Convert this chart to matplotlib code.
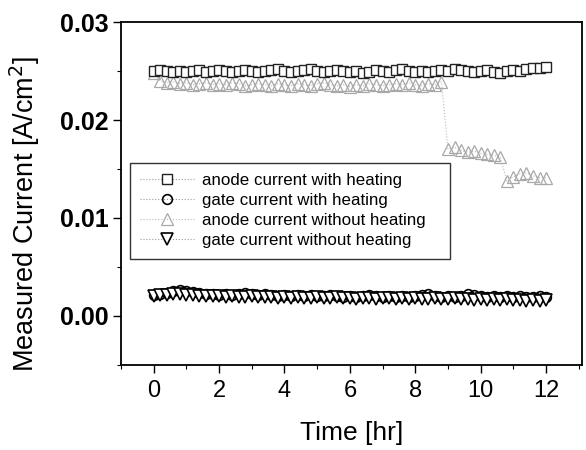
import matplotlib
matplotlib.use("Agg")
import matplotlib.pyplot as plt
from matplotlib.ticker import MultipleLocator

plt.rcParams['font.family'] = ['Liberation Sans', 'DejaVu Sans']

time_hr = [0.0, 0.2, 0.4, 0.6, 0.8, 1.0, 1.2, 1.4, 1.6, 1.8,
           2.0, 2.2, 2.4, 2.6, 2.8, 3.0, 3.2, 3.4, 3.6, 3.8,
           4.0, 4.2, 4.4, 4.6, 4.8, 5.0, 5.2, 5.4, 5.6, 5.8,
           6.0, 6.2, 6.4, 6.6, 6.8, 7.0, 7.2, 7.4, 7.6, 7.8,
           8.0, 8.2, 8.4, 8.6, 8.8, 9.0, 9.2, 9.4, 9.6, 9.8,
           10.0, 10.2, 10.4, 10.6, 10.8, 11.0, 11.2, 11.4, 11.6, 11.8,
           12.0]

anode_heat = [0.0250, 0.0251, 0.0250, 0.0249, 0.0250, 0.0249, 0.0250, 0.0251, 0.0249, 0.0250,
              0.0251, 0.0250, 0.0249, 0.0250, 0.0251, 0.0250, 0.0249, 0.0250, 0.0251, 0.0252,
              0.0250, 0.0249, 0.0250, 0.0251, 0.0252, 0.0250, 0.0249, 0.0250, 0.0251, 0.0250,
              0.0249, 0.0250, 0.0248, 0.0249, 0.0251, 0.0250, 0.0249, 0.0251, 0.0252, 0.0250,
              0.0249, 0.0250, 0.0249, 0.0250, 0.0251, 0.0250, 0.0252, 0.0251, 0.0250, 0.0249,
              0.0250, 0.0251, 0.0249, 0.0248, 0.0250, 0.0251, 0.0250, 0.0252, 0.0253, 0.0253,
              0.0254]

gate_heat = [0.0021, 0.0022, 0.0023, 0.0025, 0.0026, 0.0025, 0.0024, 0.0023, 0.0022, 0.0022,
             0.0021, 0.0022, 0.0021, 0.0022, 0.0023, 0.0022, 0.0021, 0.0022, 0.0021, 0.0020,
             0.0021, 0.0020, 0.0021, 0.0020, 0.0021, 0.0020, 0.0020, 0.0021, 0.0020, 0.0019,
             0.0020, 0.0019, 0.0020, 0.0021, 0.0020, 0.0019, 0.0020, 0.0019, 0.0020, 0.0019,
             0.0020, 0.0021, 0.0022, 0.0020, 0.0019, 0.0020, 0.0019, 0.0020, 0.0022, 0.0021,
             0.0020, 0.0019, 0.0020, 0.0019, 0.0020, 0.0019, 0.0020, 0.0019, 0.0019, 0.0020,
             0.0019]

anode_noheat = [0.0248, 0.0240, 0.0238, 0.0239, 0.0237, 0.0238, 0.0236, 0.0237, 0.0238, 0.0236,
                0.0237, 0.0236, 0.0238, 0.0237, 0.0235, 0.0236, 0.0237, 0.0236, 0.0235, 0.0237,
                0.0236, 0.0235, 0.0237, 0.0236, 0.0235, 0.0237, 0.0238, 0.0236, 0.0235, 0.0236,
                0.0234, 0.0236, 0.0235, 0.0237, 0.0236, 0.0235, 0.0236, 0.0237, 0.0236, 0.0238,
                0.0236, 0.0235, 0.0237, 0.0236, 0.0239, 0.0170, 0.0172, 0.0169, 0.0167, 0.0168,
                0.0166, 0.0165, 0.0164, 0.0162, 0.0138, 0.0142, 0.0145, 0.0146, 0.0143, 0.0141,
                0.0141]

gate_noheat = [0.0020, 0.0021, 0.0021, 0.0022, 0.0022, 0.0021, 0.0021, 0.0020, 0.0020, 0.0020,
               0.0020, 0.0019, 0.0020, 0.0019, 0.0019, 0.0020, 0.0019, 0.0019, 0.0019, 0.0018,
               0.0019, 0.0018, 0.0019, 0.0018, 0.0018, 0.0019, 0.0018, 0.0018, 0.0019, 0.0018,
               0.0018, 0.0017, 0.0018, 0.0018, 0.0017, 0.0018, 0.0018, 0.0017, 0.0018, 0.0017,
               0.0018, 0.0017, 0.0017, 0.0018, 0.0017, 0.0017, 0.0018, 0.0017, 0.0017, 0.0016,
               0.0017, 0.0016, 0.0017, 0.0016, 0.0017, 0.0016, 0.0016, 0.0015, 0.0016, 0.0015,
               0.0016]

labels = ["anode current with heating", "gate current with heating",
          "anode current without heating", "gate current without heating"]

fig = plt.figure(figsize=(5.86, 4.5), dpi=100)
ax = fig.add_axes([0.2065, 0.189, 0.7867, 0.762])

ax.plot(time_hr, anode_noheat, color='#b8b8b8', lw=0.8, ls=':', marker='^', ms=8,
        mfc='none', mec='#a8a8a8', mew=0.9, label=labels[2])
ax.plot(time_hr, anode_heat, color='#999999', lw=0.8, ls=':', marker='s', ms=7.5,
        mfc='white', mec='#222222', mew=1.0, label=labels[0])
ax.plot(time_hr, gate_heat, color='#999999', lw=0.8, ls=':', marker='o', ms=7,
        mfc='none', mec='black', mew=1.2, label=labels[1])
ax.plot(time_hr, gate_noheat, color='#999999', lw=0.8, ls=':', marker='v', ms=8,
        mfc='white', mec='black', mew=1.2, label=labels[3])

ax.set_xlim(-1.0, 13.1)
ax.set_ylim(-0.005, 0.03)
ax.xaxis.set_major_locator(MultipleLocator(2))
ax.xaxis.set_minor_locator(MultipleLocator(1))
ax.yaxis.set_major_locator(MultipleLocator(0.01))
ax.yaxis.set_minor_locator(MultipleLocator(0.005))
ax.set_yticks([0.0, 0.01, 0.02, 0.03])
ax.set_yticklabels(["0.00", "0.01", "0.02", "0.03"])
ax.set_xticks([0, 2, 4, 6, 8, 10, 12])

ax.tick_params(which='major', direction='out', length=5.5, width=1.0, top=False, right=False)
ax.tick_params(which='minor', direction='out', length=3, width=0.8, top=False, right=False)
ax.tick_params(axis='x', labelsize=17, pad=5)
ax.tick_params(axis='y', labelsize=18, pad=3.5)
for lab in ax.get_yticklabels():
    lab.set_fontweight('bold')
for s in ax.spines.values():
    s.set_linewidth(1.3)

ax.set_xlabel("Time [hr]", fontsize=19)
ax.set_ylabel("Measured Current [A/cm$^2$]", fontsize=19.5)
ax.xaxis.set_label_coords(0.5, -0.163)
ax.yaxis.set_label_coords(-0.172, 0.44)

h, l = ax.get_legend_handles_labels()
order = [1, 2, 0, 3]
leg = ax.legend([h[i] for i in order], [l[i] for i in order], loc='upper left',
                bbox_to_anchor=(0.0195, 0.589, 0.694, 0.0), mode='expand',
                borderaxespad=0, fontsize=12.2,
                frameon=True, fancybox=False, edgecolor='black', handlelength=3.2,
                labelspacing=0.3, borderpad=0.6, handletextpad=0.45)
leg.get_frame().set_linewidth(1.0)

fig.savefig("out.png", dpi=100)
